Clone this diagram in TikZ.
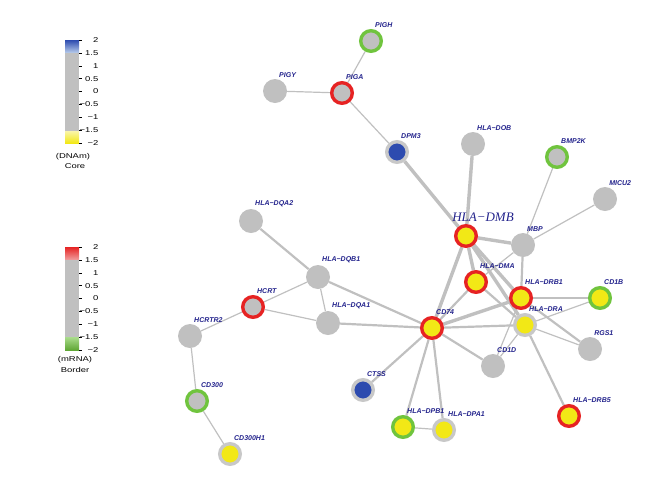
\documentclass[tikz,border=0pt]{standalone}
\usepackage{fontspec}
\usetikzlibrary{backgrounds}
\newfontfamily\labfont{Liberation Sans}
\newfontfamily\dmbfont{Liberation Serif}
\newfontfamily\barfont[FakeStretch=1.35]{Liberation Sans}
\definecolor{ngray}{RGB}{192,192,192}
\definecolor{rgray}{RGB}{200,200,200}
\definecolor{egray}{RGB}{192,192,192}
\definecolor{cred}{RGB}{230,35,35}
\definecolor{cgreen}{RGB}{112,196,62}
\definecolor{cyel}{RGB}{242,232,22}
\definecolor{cblue}{RGB}{45,75,175}
\definecolor{ltblue}{RGB}{185,205,235}
\definecolor{ltyel}{RGB}{250,245,170}
\definecolor{ltred}{RGB}{240,160,160}
\definecolor{ltgreen}{RGB}{170,220,140}
\definecolor{labblue}{RGB}{35,35,140}

\begin{document}
\begin{tikzpicture}[x=1pt, y=-1pt, label distance=1.5pt,
    gene/.style={circle, inner sep=0pt, minimum size=24pt, fill=ngray},
    ringed/.style={gene, minimum size=20.6pt, line width=3.4pt, draw=#1},
    hit/.style={ringed=cred, fill=cyel},
    lab/.style={anchor=south west, inner sep=0.5pt, text=labblue,
        font={\labfont\bfseries\itshape\fontsize{7}{8}\selectfont}},
    big/.style={anchor=south, xshift=17pt, inner sep=0.5pt, text=labblue,
        font={\dmbfont\itshape\fontsize{13}{14}\selectfont}},
    lnk/.style={draw=egray, line width=1.2pt},
    lnkmid/.style={draw=egray, line width=2.2pt},
    lnkbig/.style={draw=egray, line width=3.4pt},
    bartext/.style={inner sep=0.5pt, font={\barfont\fontsize{7}{8}\selectfont}}
]
    \useasboundingbox (0,0) rectangle (662,483);

    % colour keys
    \shade[top color=cblue, bottom color=ltblue] (65,40) rectangle (79,53);
    \fill[ngray] (65,53) rectangle (79,131);
    \shade[top color=ltyel, bottom color=cyel] (65,131) rectangle (79,143);
    \foreach \i/\t in {0/2,1/1.5,2/1,3/0.5,4/0,5/−0.5,6/−1,7/−1.5,8/−2} {
        \draw (79,40+\i*12.875) -- (82,40+\i*12.875);
        \node[bartext, anchor=east] (tc\i) at (99,40+\i*12.875) {\t};
    }
    \node[bartext] (keya) at (73,157) {(DNAm)};
    \node[bartext] (keyb) at (75,166) {Core};

    \shade[top color=cred, bottom color=ltred] (65,247) rectangle (79,260);
    \fill[ngray] (65,260) rectangle (79,337);
    \shade[top color=ltgreen, bottom color=cgreen!85!black] (65,337) rectangle (79,350);
    \foreach \i/\t in {0/2,1/1.5,2/1,3/0.5,4/0,5/−0.5,6/−1,7/−1.5,8/−2} {
        \draw (79,247+\i*12.875) -- (82,247+\i*12.875);
        \node[bartext, anchor=east] (tm\i) at (99,247+\i*12.875) {\t};
    }
    \node[bartext] (keyc) at (75,360) {(mRNA)};
    \node[bartext] (keyd) at (75,370) {Border};

    % genes
    \node[ringed=cgreen, label={[lab]75:PIGH}] (pigh) at (371,41) {};
    \node[gene, label={[lab]75:PIGY}] (pigy) at (275,91) {};
    \node[ringed=cred, label={[lab]75:PIGA}] (piga) at (342,93) {};
    \node[ringed=rgray, fill=cblue, label={[lab]75:DPM3}] (dpm3) at (397,152) {};
    \node[gene, label={[lab]75:HLA−DOB}] (dob) at (473,144) {};
    \node[ringed=cgreen, label={[lab]75:BMP2K}] (bmp2k) at (557,157) {};
    \node[gene, label={[lab]75:MICU2}] (micu2) at (605,199) {};
    \node[hit, label={[big]90:HLA−DMB}] (dmb) at (466,236) {};
    \node[gene, label={[lab]75:MBP}] (mbp) at (523,245) {};
    \node[hit, label={[lab]75:HLA−DMA}] (dma) at (476,282) {};
    \node[hit, label={[lab]75:HLA−DRB1}] (drb1) at (521,298) {};
    \node[ringed=cgreen, fill=cyel, label={[lab]75:CD1B}] (cd1b) at (600,298) {};
    \node[ringed=rgray, fill=cyel, label={[lab]75:HLA−DRA}] (dra) at (525,325) {};
    \node[hit, label={[lab]75:CD74}] (cd74) at (432,328) {};
    \node[gene, label={[lab]75:RGS1}] (rgs1) at (590,349) {};
    \node[gene, label={[lab]75:CD1D}] (cd1d) at (493,366) {};
    \node[hit, label={[lab]75:HLA−DRB5}] (drb5) at (569,416) {};
    \node[ringed=rgray, fill=cblue, label={[lab]75:CTSS}] (ctss) at (363,390) {};
    \node[ringed=cgreen, fill=cyel, label={[lab]75:HLA−DPB1}] (dpb1) at (403,427) {};
    \node[ringed=rgray, fill=cyel, label={[lab]75:HLA−DPA1}] (dpa1) at (444,430) {};
    \node[gene, label={[lab]75:HLA−DQA2}] (dqa2) at (251,221) {};
    \node[gene, label={[lab]75:HLA−DQB1}] (dqb1) at (318,277) {};
    \node[gene, label={[lab]75:HLA−DQA1}] (dqa1) at (328,323) {};
    \node[ringed=cred, label={[lab]75:HCRT}] (hcrt) at (253,307) {};
    \node[gene, label={[lab]75:HCRTR2}] (hcrtr2) at (190,336) {};
    \node[ringed=cgreen, label={[lab]75:CD300}] (cd300) at (197,401) {};
    \node[ringed=rgray, fill=cyel, label={[lab]75:CD300H1}] (cd300h1) at (230,454) {};

    % links
    \begin{pgfonlayer}{background}
    \draw[lnk] (pigh) -- (piga);
    \draw[lnk] (pigy) -- (piga);
    \draw[lnk] (piga) -- (dpm3);
    \draw[lnkbig] (dpm3) -- (dmb);
    \draw[lnkbig] (dob) -- (dmb);
    \draw[lnk] (bmp2k) -- (mbp);
    \draw[lnk] (micu2) -- (mbp);
    \draw[lnkbig] (dmb) -- (mbp);
    \draw[lnk] (mbp) -- (dma);
    \draw[lnkmid] (mbp) -- (drb1);
    \draw[lnkbig] (dmb) -- (dma);
    \draw[lnkbig] (dmb) -- (drb1);
    \draw[lnkbig] (dmb) -- (dra);
    \draw[lnkbig] (dmb) -- (cd74);
    \draw[lnkmid] (cd74) -- (dma);
    \draw[lnkbig] (cd74) -- (drb1);
    \draw[lnkmid] (cd74) -- (dra);
    \draw[lnkmid] (cd74) -- (cd1d);
    \draw[lnkmid] (cd74) -- (ctss);
    \draw[lnkmid] (cd74) -- (dpb1);
    \draw[lnkmid] (cd74) -- (dpa1);
    \draw[lnkmid] (cd74) -- (dqb1);
    \draw[lnkmid] (cd74) -- (dqa1);
    \draw[lnkmid] (dma) -- (dra);
    \draw[lnkmid] (drb1) -- (cd1b);
    \draw[lnkmid] (drb1) -- (rgs1);
    \draw[lnk] (drb1) -- (cd1d);
    \draw[lnk] (dra) -- (cd1b);
    \draw[lnk] (dra) -- (rgs1);
    \draw[lnkmid] (dra) -- (drb5);
    \draw[lnk] (dra) -- (cd1d);
    \draw[lnkmid] (dqa2) -- (dqb1);
    \draw[lnk] (dqb1) -- (hcrt);
    \draw[lnk] (dqb1) -- (dqa1);
    \draw[lnk] (hcrt) -- (dqa1);
    \draw[lnk] (hcrt) -- (hcrtr2);
    \draw[lnk] (hcrtr2) -- (cd300);
    \draw[lnk] (cd300) -- (cd300h1);
    \draw[lnk] (dpb1) -- (dpa1);
    \end{pgfonlayer}
\end{tikzpicture}
\end{document}
